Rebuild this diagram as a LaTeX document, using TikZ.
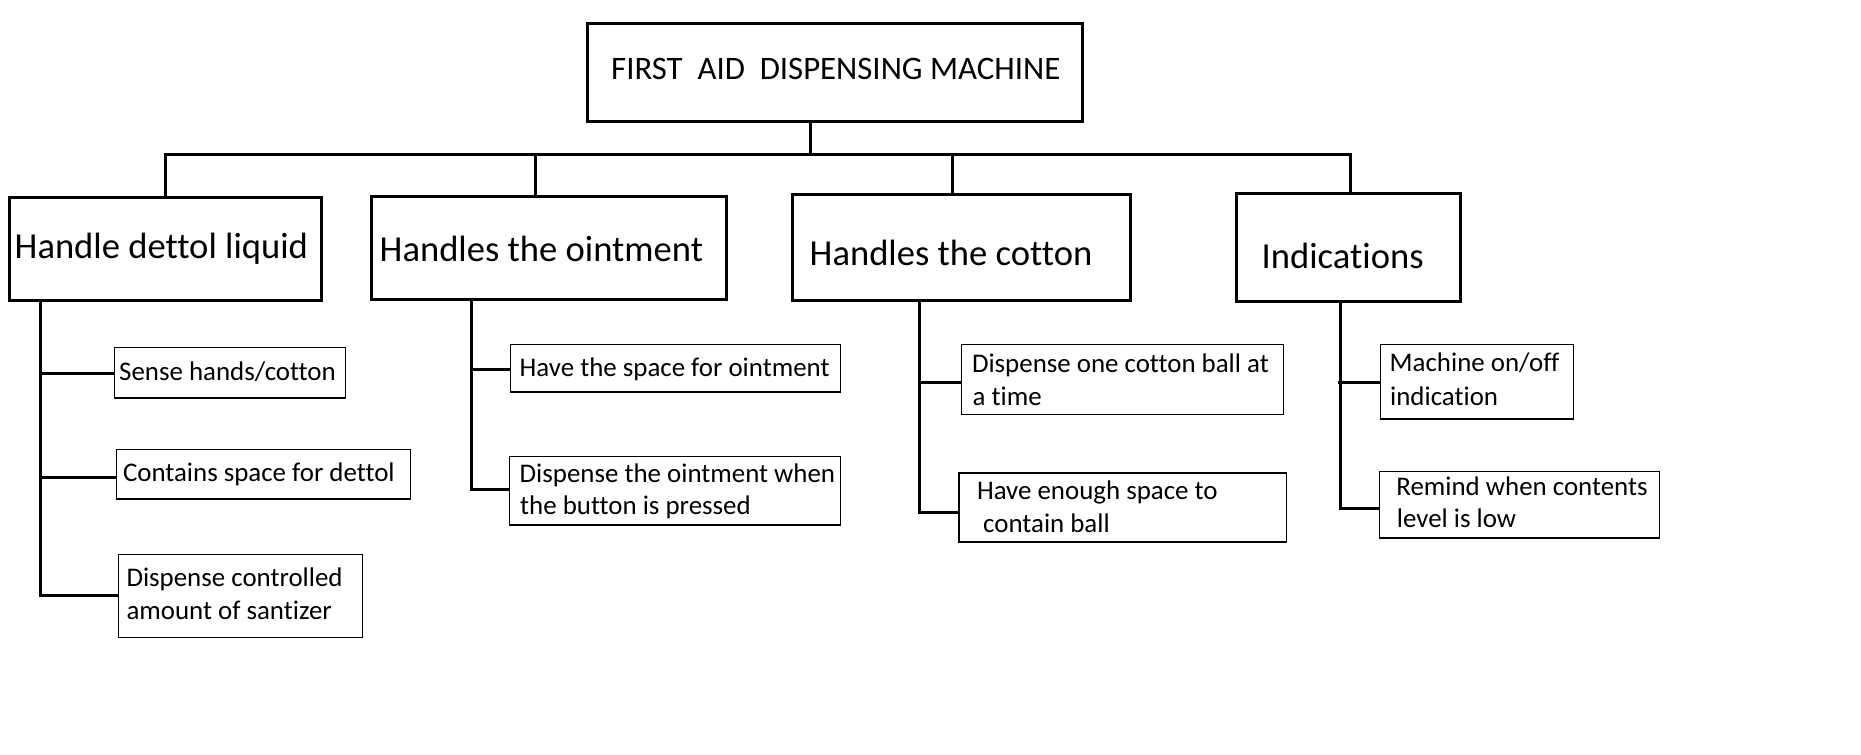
\documentclass[tikz,border=0pt]{standalone}
\usepackage{fontspec}
\setmainfont{Carlito}[Ligatures=NoCommon]
\usetikzlibrary{calc}
\begin{document}
\begin{tikzpicture}[x=1pt,y=-1pt,
  bigbox/.style={draw=black,line width=3pt,inner sep=0pt,outer sep=0pt},
  smallbox/.style={draw=black,line width=1.3pt,inner sep=0pt,outer sep=0pt},
  conn/.style={draw=black,line width=3pt},
  titletxt/.style={anchor=base west,inner sep=0pt,font=\fontsize{32.8}{38}\selectfont},
  bigtxt/.style={anchor=base west,inner sep=0pt,font=\fontsize{36.6}{42}\selectfont},
  smalltxt/.style={anchor=base west,inner sep=0pt,font=\fontsize{26.9}{32}\selectfont}]
\fill[white] (0,0) rectangle (1861,755);
\useasboundingbox (0,0) rectangle (1861,755);

% title
\node[bigbox,minimum width=495pt,minimum height=97.7pt] (T) at (834.5,72.2) {};
\node[titletxt] (tT) at (611,79.3) {FIRST\ \ AID\ \ DISPENSING MACHINE};

% main boxes
\node[bigbox,minimum width=312.7pt,minimum height=103pt] (B1) at (165.35,248.8) {};
\node[bigbox,minimum width=355pt,minimum height=103.3pt] (B2) at (548.5,247.65) {};
\node[bigbox,minimum width=338.4pt,minimum height=106.2pt] (B3) at (961.5,247.6) {};
\node[bigbox,minimum width=223.3pt,minimum height=108pt] (B4) at (1348.35,247.3) {};
\node[bigtxt] (tB1) at (14.5,258.3) {Handle dettol liquid};
\node[bigtxt] (tB2) at (379.5,261) {Handles the ointment};
\node[bigtxt] (tB3) at (809.5,265) {Handles the cotton};
\node[bigtxt] (tB4) at (1261.5,268.3) {Indications};

% bus
\coordinate (ts) at (810.3,154.3);
\coordinate (s1) at (165.7,154.3);
\coordinate (s2) at (535.7,154.3);
\coordinate (s3) at (952.3,154.3);
\coordinate (s4) at (1350.3,154.3);
\draw[conn] (T.south -| ts) -- (ts);
\draw[conn] ([xshift=-1.5pt]s1) -- ([xshift=1.5pt]s4);
\draw[conn] (s1) -- (B1.north -| s1);
\draw[conn] (s2) -- (B2.north -| s2);
\draw[conn] (s3) -- (B3.north -| s3);
\draw[conn] (s4) -- (B4.north -| s4);

% children of B1
\node[smallbox,minimum width=231pt,minimum height=50.3pt] (C11) at (229.8,372.85) {};
\node[smallbox,minimum width=294pt,minimum height=49.7pt] (C12) at (263.3,474.15) {};
\node[smallbox,minimum width=244pt,minimum height=83pt] (C13) at (240.3,595.8) {};
\node[smalltxt] (t11) at (119,380) {Sense hands/cotton};
\node[smalltxt] (t12) at (122.8,481.7) {Contains space for dettol};
\node[smalltxt] (t131) at (126.3,586.7) {Dispense controlled};
\node[smalltxt] (t132) at (126.3,619) {amount of santizer};

% children of B2
\node[smallbox,minimum width=330pt,minimum height=47.3pt] (C21) at (675.3,368.35) {};
\node[smallbox,minimum width=331pt,minimum height=68.3pt] (C22) at (674.8,490.85) {};
\node[smalltxt] (t21) at (519.5,376.7) {Have the space for ointment};
\node[smalltxt] (t221) at (519.5,482.3) {Dispense the ointment when};
\node[smalltxt] (t222) at (520,514.3) {the button is pressed};

% children of B3
\node[smallbox,minimum width=321.6pt,minimum height=69.6pt] (C31) at (1122.5,379.5) {};
\node[smallbox,minimum width=327.7pt,minimum height=69pt] (C32) at (1122.85,507.5) {};
\node[smalltxt] (t311) at (971.8,372.7) {Dispense one cotton ball at};
\node[smalltxt] (t312) at (972.5,405.3) {a time};
\node[smalltxt] (t321) at (976.8,499.3) {Have enough space to};
\node[smalltxt] (t322) at (983,532) {contain ball};

% children of B4
\node[smallbox,minimum width=192.6pt,minimum height=74.3pt] (C41) at (1477,381.85) {};
\node[smallbox,minimum width=280pt,minimum height=66.3pt] (C42) at (1519.3,504.85) {};
\node[smalltxt] (t411) at (1389.5,371.7) {Machine on/off};
\node[smalltxt] (t412) at (1390,405) {indication};
\node[smalltxt] (t421) at (1396.2,495) {Remind when contents};
\node[smalltxt] (t422) at (1396.7,527.7) {level is low};

% trunks and branches
\coordinate (tr1) at (40,300);
\coordinate (tr2) at (471.7,300);
\coordinate (tr3) at (919.7,300);
\coordinate (tr4) at (1340.3,300);

\coordinate (k11) at ($(C11.west)+(0,0.5)$);
\coordinate (k12) at ($(C12.west)+(0,3.2)$);
\coordinate (k13) at ($(C13.west)+(0,-0.5)$);
\draw[conn] (tr1 |- k11) -- (k11);
\draw[conn] (tr1 |- k12) -- (k12);
\draw[conn] (B1.south -| tr1) |- (k13);

\coordinate (k21) at ($(C21.west)+(0,1)$);
\coordinate (k22) at ($(C22.west)+(0,-1.5)$);
\draw[conn] (tr2 |- k21) -- (k21);
\draw[conn] (B2.south -| tr2) |- (k22);

\coordinate (k31) at ($(C31.west)+(0,2.5)$);
\coordinate (k32) at ($(C32.west)+(0,4.5)$);
\draw[conn] (tr3 |- k31) -- (k31);
\draw[conn] (B3.south -| tr3) |- (k32);

\coordinate (k41) at ($(C41.west)+(0,0.8)$);
\coordinate (k42) at ($(C42.west)+(0,3.5)$);
\draw[conn] ([xshift=-2pt]tr4 |- k41) -- (k41);
\draw[conn] (B4.south -| tr4) |- (k42);
\end{tikzpicture}
\end{document}
